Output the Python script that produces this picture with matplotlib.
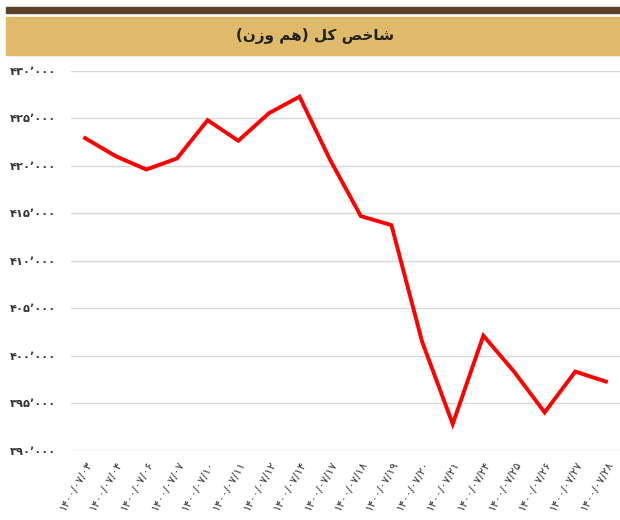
import matplotlib.pyplot as plt
from matplotlib.patches import Rectangle

# داده‌ها
dates = ['۱۴۰۰/۰۷/۰۳', '۱۴۰۰/۰۷/۰۴', '۱۴۰۰/۰۷/۰۶', '۱۴۰۰/۰۷/۰۷', '۱۴۰۰/۰۷/۱۰', '۱۴۰۰/۰۷/۱۱',
         '۱۴۰۰/۰۷/۱۲', '۱۴۰۰/۰۷/۱۴', '۱۴۰۰/۰۷/۱۷', '۱۴۰۰/۰۷/۱۸', '۱۴۰۰/۰۷/۱۹', '۱۴۰۰/۰۷/۲۰',
         '۱۴۰۰/۰۷/۲۱', '۱۴۰۰/۰۷/۲۴', '۱۴۰۰/۰۷/۲۵', '۱۴۰۰/۰۷/۲۶', '۱۴۰۰/۰۷/۲۷', '۱۴۰۰/۰۷/۲۸']
index_values = [422900, 421000, 419600, 420760, 424790, 422620, 425520, 427260, 420600,
                414700, 413750, 401500, 392840, 402130, 398350, 394060, 398350, 397300]
y_ticks = [390000, 395000, 400000, 405000, 410000, 415000, 420000, 425000, 430000]

# "شاخص کل (هم وزن)" با حروف شکل‌یافته و ترتیب دیداری (matplotlib خودش شکل نمی‌دهد)
title_visual = '(ﻥﺯﻭ ﻢﻫ) ﻞﮐ ﺺﺧﺎﺷ'

fa_digits = str.maketrans('0123456789,', '۰۱۲۳۴۵۶۷۸۹٬')


def fa_num(v):
    return f'{v:,}'.translate(fa_digits)


plt.rcParams['font.family'] = ['DejaVu Sans']

fig = plt.figure(figsize=(6.2, 5.2), dpi=100)

# نوار بالا و سرتیتر
fig.patches.append(Rectangle((6 / 620, 1 - 12.7 / 520), 614 / 620, 6 / 520,
                             transform=fig.transFigure, color='#5C4325', zorder=0))
fig.patches.append(Rectangle((6 / 620, 1 - 55 / 520), 614 / 620, 38.3 / 520,
                             transform=fig.transFigure, color='#DEBA6A', zorder=0))
fig.text(315 / 620, 1 - 35.5 / 520, title_visual, ha='center', va='center',
         fontsize=11, fontweight='bold', color='#222222')

ax = fig.add_axes([71 / 620, 69 / 520, 549 / 620, 380.4 / 520])
x = list(range(len(dates)))
ax.plot(x, index_values, color='#FF0000', linewidth=2.8, solid_joinstyle='miter', zorder=3)

ax.set_ylim(390000, 430000)
ax.set_xlim(-0.46, len(dates) - 1 + 0.46)
ax.set_yticks(y_ticks)
ax.set_yticklabels([fa_num(v) for v in y_ticks], fontsize=8.2, fontweight='bold', color='#333333')
ax.set_xticks(x)
ax.set_xticklabels(dates, rotation=60, ha='right', va='top', rotation_mode='anchor',
                   fontsize=8, color='#333333')
ax.tick_params(axis='both', length=0)
ax.tick_params(axis='y', pad=11)
ax.tick_params(axis='x', pad=6)
ax.grid(axis='y', color='#D9D9D9', linewidth=1)
ax.set_axisbelow(True)
for s in ax.spines.values():
    s.set_visible(False)

plt.savefig('out.png', dpi=100)
